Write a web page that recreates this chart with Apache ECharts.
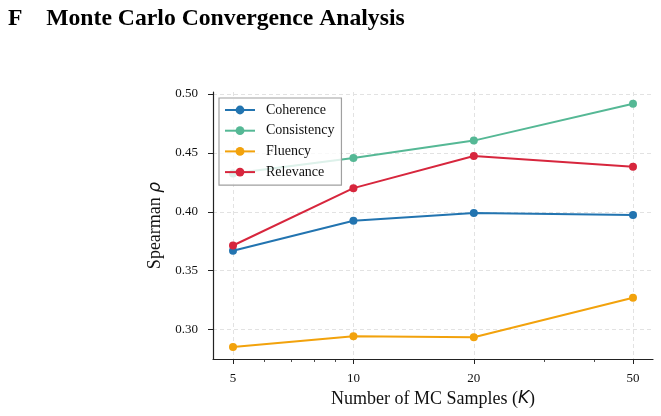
<!DOCTYPE html>
<html>
<head>
<meta charset="utf-8">
<script src="https://cdn.jsdelivr.net/npm/echarts@6/dist/echarts.min.js"></script>
<style>
  html, body { margin: 0; padding: 0; background: #fff; }
  #chart { width: 661px; height: 416px; }
</style>
</head>
<body>
<div id="chart"></div>
<script>
// MC sample counts (log x axis)
var samples = [5, 10, 20, 50];
var coherence = [0.367, 0.3924, 0.3990, 0.3972];
var consistency = [0.4325, 0.4455, 0.4603, 0.4915];
var fluency = [0.2853, 0.2945, 0.2936, 0.3271];
var relevance = [0.3714, 0.4200, 0.4473, 0.4381];

var xTicks = [5, 10, 20, 50];
var xMinorTicks = [6, 7, 8, 9, 30, 40];
var yTicks = [0.30, 0.35, 0.40, 0.45, 0.50];

var seriesNames = ['Coherence', 'Consistency', 'Fluency', 'Relevance'];
var seriesValues = [coherence, consistency, fluency, relevance];
var colors = ['#2274b0', '#55b895', '#f2a20c', '#d7263d'];

var serif = '"Liberation Serif", "Times New Roman", serif';

function pairs(vals) {
  return samples.map(function (k, i) { return [k, vals[i]]; });
}

var chart = echarts.init(document.getElementById('chart'));

chart.setOption({
  animation: false,
  textStyle: { fontFamily: serif },
  title: {
    text: 'F    Monte Carlo Convergence Analysis',
    left: 3, top: 2,
    textStyle: { fontFamily: serif, fontSize: 23.7, fontWeight: 'bold', color: '#000' }
  },
  legend: {
    orient: 'vertical',
    left: 219, top: 98,
    padding: [5, 7, 6, 5],
    itemWidth: 30, itemHeight: 11, itemGap: 6.7,
    backgroundColor: 'rgba(255,255,255,0.8)',
    borderColor: '#a0a0a0', borderWidth: 1.2, borderRadius: 0,
    textStyle: { fontFamily: serif, fontSize: 14, color: '#111', padding: [0, 0, 0, 6] },
    data: seriesNames
  },
  grid: { left: 213, right: 8, top: 92, bottom: 57, containLabel: false, outerBoundsMode: 'none' },
  xAxis: [{
    type: 'log', logBase: 10,
    min: 5 / Math.pow(10, 0.05), max: 50 * Math.pow(10, 0.05),
    position: 'bottom',
    name: 'Number of MC Samples ({i|K})',
    nameLocation: 'middle', nameGap: 30,
    nameTextStyle: {
      fontFamily: serif, fontSize: 18, color: '#111',
      rich: { i: { fontFamily: 'DejaVu Sans', fontStyle: 'italic', fontSize: 17, color: '#111' } }
    },
    axisLine: { onZero: false, lineStyle: { color: '#222', width: 1.2 } },
    axisTick: { show: true, customValues: xTicks, length: 5, lineStyle: { color: '#222', width: 1 } },
    axisLabel: { customValues: xTicks, fontFamily: serif, fontSize: 13, color: '#111', margin: 13,
      formatter: function (v) { return String(Math.round(v)); } },
    splitLine: { show: true, lineStyle: { color: '#e2e2e2', type: [4, 3], width: 1 } }
  }, {
    type: 'log', logBase: 10,
    min: 5 / Math.pow(10, 0.05), max: 50 * Math.pow(10, 0.05),
    position: 'bottom',
    axisLine: { show: false },
    axisTick: { show: true, customValues: xMinorTicks, length: 3, lineStyle: { color: '#222', width: 0.8 } },
    axisLabel: { show: false },
    splitLine: { show: false }
  }],
  yAxis: {
    type: 'value',
    min: 0.2752, max: 0.5015,
    name: 'Spearman {i|ρ}',
    nameLocation: 'middle', nameGap: 45, nameRotate: 90,
    nameTextStyle: {
      fontFamily: serif, fontSize: 18, color: '#111',
      rich: { i: { fontFamily: 'DejaVu Sans', fontStyle: 'italic', fontSize: 17, color: '#111' } }
    },
    axisLine: { show: true, lineStyle: { color: '#222', width: 1.2 } },
    axisTick: { show: true, customValues: yTicks, length: 5, lineStyle: { color: '#222', width: 1 } },
    axisLabel: { customValues: yTicks, fontFamily: serif, fontSize: 13, color: '#111', margin: 15,
      formatter: function (v) { return v.toFixed(2); } },
    splitLine: { show: true, lineStyle: { color: '#e2e2e2', type: [4, 3], width: 1 } }
  },
  series: seriesNames.map(function (name, i) {
    return {
      name: name,
      type: 'line',
      xAxisIndex: 0,
      data: pairs(seriesValues[i]),
      symbol: 'circle', symbolSize: 8,
      lineStyle: { width: 2, color: colors[i] },
      itemStyle: { color: colors[i] },
      z: 2
    };
  })
});
</script>
</body>
</html>
